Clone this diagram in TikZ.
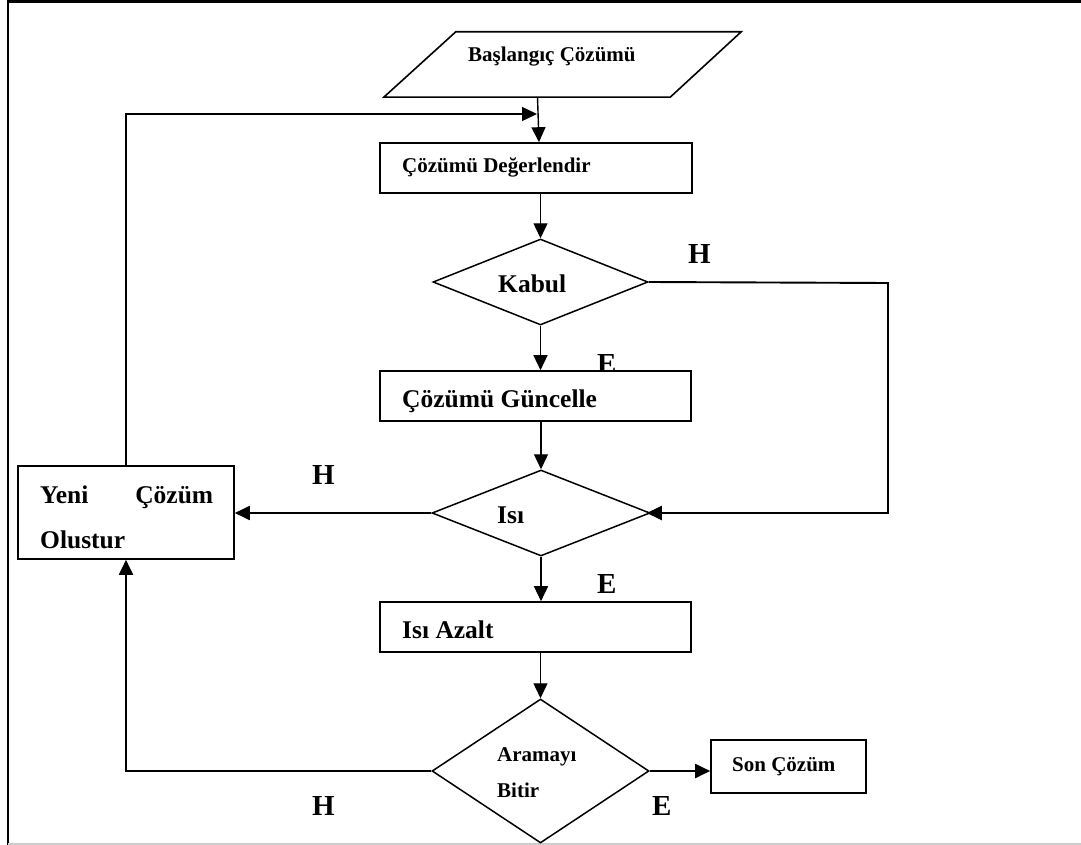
\documentclass[tikz,border=0pt]{standalone}
\usepackage{fontspec}
\setmainfont{Liberation Serif}
\usetikzlibrary{shapes.geometric,arrows.meta}
\begin{document}
\begin{tikzpicture}[x=1pt,y=-1pt,
  box/.style={draw, rectangle, line width=1.6pt, fill=white, inner sep=0pt},
  dia/.style={draw, diamond, line width=1.5pt, fill=white, inner sep=0pt},
  thinarr/.style={line width=1.4pt, -{Triangle[length=15pt,width=14pt]}},
  branch/.style={line width=1.8pt},
  brancharr/.style={line width=1.9pt, -{Triangle[length=15pt,width=14pt]}},
  smalltxt/.style={font=\bfseries\fontsize{21}{25}\selectfont, anchor=base west, inner sep=0pt},
  midtxt/.style={font=\bfseries\fontsize{25.5}{30}\selectfont, anchor=base west, inner sep=0pt},
  labtxt/.style={font=\bfseries\fontsize{29}{34}\selectfont, anchor=base west, inner sep=0pt}
]
\useasboundingbox (0,0) rectangle (1081,845);
% page frame
\draw[line width=2.5pt] (8,1.5) -- (1081,1.5);
\draw[line width=1.7pt] (8,0) -- (8,845);
\draw[line width=2pt, black!20] (8,844) -- (1081,844);

% start (parallelogram)
\node[minimum width=357pt, minimum height=65pt, inner sep=0pt] (start) at (562.5,64.5) {};
\draw[line width=1.6pt, fill=white] (start.south west) -- ([xshift=72pt]start.north west)
  -- (start.north east) -- ([xshift=-71pt]start.south east) -- cycle;
\node[smalltxt] (tstart) at (468,62) {Başlangıç Çözümü};

% boxes and decisions
\node[box, minimum width=312pt, minimum height=50pt] (deg) at (536,168) {};
\node[smalltxt] (tdeg) at (402,173) {Çözümü Değerlendir};

\node[dia, minimum width=215pt, minimum height=86pt] (kabul) at (540.5,282) {};
\node[midtxt] (tkabul) at (498,292) {Kabul};

\node[labtxt] (e1) at (597,373) {E};
\node[box, minimum width=311pt, minimum height=50pt] (gunc) at (535.5,396) {};
\node[midtxt] (tgunc) at (402,407) {Çözümü Güncelle};

\node[dia, minimum width=218pt, minimum height=86pt] (isi) at (541,513) {};
\node[midtxt] (tisi) at (497,523) {Isı};

\node[box, minimum width=311pt, minimum height=50pt] (azalt) at (535.5,627) {};
\node[midtxt] (tazalt) at (402,638) {Isı Azalt};

\node[dia, minimum width=217pt, minimum height=144pt] (aram) at (540.5,771) {};
\node[smalltxt] (taram1) at (497,761) {Aramayı};
\node[smalltxt] (taram2) at (497,797) {Bitir};

\node[box, minimum width=216pt, minimum height=93pt] (yeni) at (126,512.5) {};
\node[midtxt] (tyeni1) at (40,503) {\makebox[173pt][s]{Yeni Çözüm}};
\node[midtxt] (tyeni2) at (40,548) {Olustur};

\node[box, minimum width=155pt, minimum height=53pt] (son) at (788.5,766.5) {};
\node[smalltxt] (tson) at (732,771) {Son Çözüm};

% branch labels
\node[labtxt] (h1) at (688,263) {H};
\node[labtxt] (h2) at (312,484) {H};
\node[labtxt] (e2) at (597,593) {E};
\node[labtxt] (h3) at (312,815) {H};
\node[labtxt] (e3) at (652,815) {E};

% connectors
\coordinate (fb) at (537,114);
\coordinate (kr) at (888,283);
\draw[thinarr] ([xshift=-25pt]start.south) -- ([xshift=3pt]deg.north);
\draw[thinarr] (yeni.north) |- (fb);
\draw[thinarr] (deg.south -| kabul.north) -- (kabul.north);
\draw[thinarr] (kabul.south) -- (kabul.south |- gunc.north);
\draw[thinarr] (gunc.south -| isi.north) -- (isi.north);
\draw[thinarr] (isi.south) -- (isi.south |- azalt.north);
\draw[thinarr] (azalt.south -| aram.north) -- (aram.north);
\draw[brancharr] (kabul.east) -- (kr) |- ([xshift=-4pt]isi.east);
\draw[brancharr] (isi.west) -- (isi.west -| yeni.east);
\draw[brancharr] (aram.west) -| (yeni.south);
\draw[brancharr] (aram.east) -- (aram.east -| son.west);
\end{tikzpicture}
\end{document}
